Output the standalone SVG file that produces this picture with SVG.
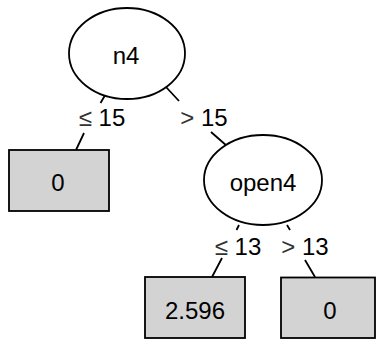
<svg xmlns="http://www.w3.org/2000/svg" width="376" height="339" viewBox="0 0 376 339">
  <style>
    text { font-family: "Liberation Sans", Arial, sans-serif; font-size: 24px; fill: #000; text-anchor: middle; }
    .inner { fill: #fff; stroke: #000; stroke-width: 1.8; }
    .leaf { fill: #d3d3d3; stroke: #000; stroke-width: 1.8; }
    .edge { fill: none; stroke: #000; stroke-width: 1.8; }
    .op { fill: #333; }
  </style>
  <rect width="376" height="339" fill="#fff"/>

  <!-- edges, broken where the split labels sit -->
  <g id="connectors">
    <path class="edge" d="M105.5,94.5 L100.5,103 M84,133 L76,150"/>
    <path class="edge" d="M166,87 L179,101 M211,132 L227,146"/>
    <path class="edge" d="M239,225 L236.5,230 M222,258 L212,277"/>
    <path class="edge" d="M287,225 L290,230 M305,260 L315,277"/>
    <text x="102" y="126"><tspan class="op">≤</tspan> 15</text>
    <text x="204" y="126"><tspan class="op">&gt;</tspan> 15</text>
    <text x="238" y="255"><tspan class="op">≤</tspan> 13</text>
    <text x="305" y="255"><tspan class="op">&gt;</tspan> 13</text>
  </g>

  <g id="n4">
    <ellipse class="inner" cx="127" cy="53.5" rx="58" ry="45.5"/>
    <text x="126" y="64">n4</text>
  </g>

  <g id="leaf-left">
    <rect class="leaf" x="9" y="150" width="100" height="61"/>
    <text x="58" y="191">0</text>
  </g>

  <g id="open4">
    <ellipse class="inner" cx="263" cy="180" rx="59" ry="45"/>
    <text x="263" y="191">open4</text>
  </g>

  <g id="leaf-mid">
    <rect class="leaf" x="145" y="277" width="100" height="61"/>
    <text x="195" y="319">2.596</text>
  </g>

  <g id="leaf-right">
    <rect class="leaf" x="281" y="277.5" width="94" height="60.5"/>
    <text x="330" y="319">0</text>
  </g>
</svg>
